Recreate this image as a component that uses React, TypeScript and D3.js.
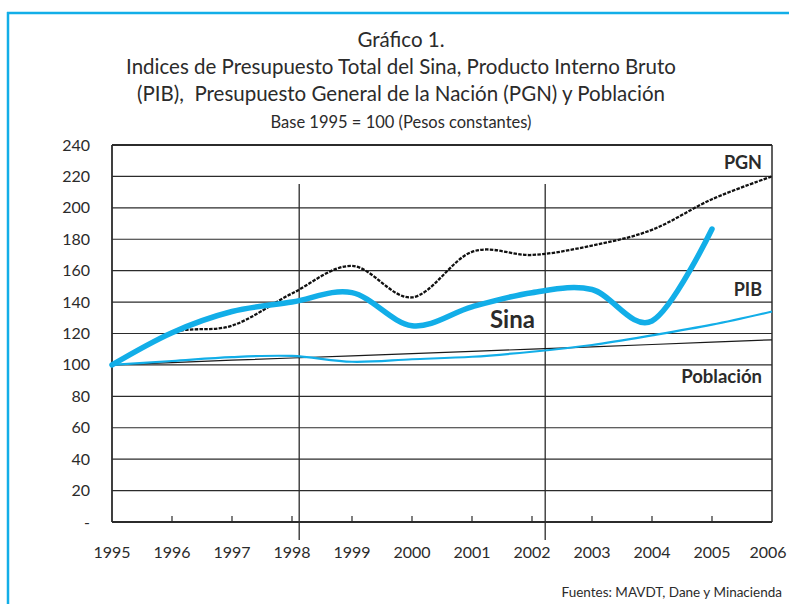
import React, { useEffect, useRef } from 'react';
import * as d3 from 'd3';

// years on the x axis
const years = [1995, 1996, 1997, 1998, 1999, 2000, 2001, 2002, 2003, 2004, 2005, 2006];
const yTicks = [0, 20, 40, 60, 80, 100, 120, 140, 160, 180, 200, 220, 240];

// index values, base 1995 = 100
const sinaYears = [1995, 1996, 1997, 1998, 1999, 2000, 2001, 2002, 2003, 2004, 2005];
const sina = [100, 120.5, 134, 140, 146, 125, 137, 146, 148, 128, 186.5];
const pgn = [100, 120.5, 125, 145.5, 163, 143, 172, 170, 176, 186, 205.5, 220];
const pib = [100, 102.5, 105, 105.7, 102, 103.6, 105.2, 108.4, 112.7, 118.8, 125.6, 134];
const poblacion = [100, 101.5, 103, 104.4, 105.8, 107.2, 108.6, 110.1, 111.5, 113, 114.5, 116];

// period markers (vertical lines)
const markers = [1998.12, 2002.22];

const FONT = 'Lato, "Open Sans", sans-serif';
const BLUE = '#12aee8';
const INK = '#2b2b2b';

export default function App() {
  const ref = useRef<SVGSVGElement | null>(null);

  useEffect(() => {
    const svg = d3.select(ref.current);
    svg.selectAll('*').remove();

    const x = d3.scaleLinear().domain([1995, 2006]).range([112, 772]);
    const y = d3.scaleLinear().domain([0, 240]).range([522, 145]);

    // outer blue frame (left + top)
    svg.append('line').attr('x1', 8).attr('x2', 8).attr('y1', 12).attr('y2', 604)
      .attr('stroke', BLUE).attr('stroke-width', 2.5);
    svg.append('line').attr('x1', 7).attr('x2', 789).attr('y1', 13).attr('y2', 13)
      .attr('stroke', BLUE).attr('stroke-width', 2.5);

    // titles
    const titles = [
      { t: 'Gráfico 1.', y: 47, s: 20.5 },
      { t: 'Indices de Presupuesto Total del Sina, Producto Interno Bruto', y: 74, s: 20.5 },
      { t: '(PIB),  Presupuesto General de la Nación (PGN) y Población', y: 101, s: 20.5 },
      { t: 'Base 1995 = 100 (Pesos constantes)', y: 128, s: 16.5 }
    ];
    svg.selectAll('.title')
      .data(titles)
      .enter()
      .append('text')
      .attr('class', 'title')
      .attr('x', 401)
      .attr('y', d => d.y)
      .attr('text-anchor', 'middle')
      .attr('font-family', FONT)
      .attr('font-size', d => d.s)
      .attr('fill', INK)
      .style('white-space', 'pre')
      .text(d => d.t);

    // horizontal gridlines
    svg.append('g')
      .selectAll('line')
      .data(yTicks)
      .enter()
      .append('line')
      .attr('x1', x(1995))
      .attr('x2', x(2006))
      .attr('y1', d => y(d))
      .attr('y2', d => y(d))
      .attr('stroke', INK)
      .attr('stroke-width', d => (d === 240 || d === 0 ? 1.8 : 1.2));

    // y axis labels
    svg.append('g')
      .selectAll('text')
      .data(yTicks)
      .enter()
      .append('text')
      .attr('x', 90)
      .attr('y', d => y(d) + 5.5)
      .attr('text-anchor', 'end')
      .attr('font-family', FONT)
      .attr('font-size', 16)
      .attr('fill', INK)
      .text(d => (d === 0 ? '-' : String(d)));

    // plot frame sides
    svg.append('line').attr('x1', x(1995)).attr('x2', x(1995)).attr('y1', y(240)).attr('y2', y(0))
      .attr('stroke', INK).attr('stroke-width', 1.8);
    svg.append('line').attr('x1', x(2006)).attr('x2', x(2006)).attr('y1', y(240)).attr('y2', y(0))
      .attr('stroke', INK).attr('stroke-width', 1.5);

    // x ticks (inside)
    svg.append('g')
      .selectAll('line')
      .data(years.slice(1, -1))
      .enter()
      .append('line')
      .attr('x1', d => x(d))
      .attr('x2', d => x(d))
      .attr('y1', y(0) - 6)
      .attr('y2', y(0))
      .attr('stroke', INK)
      .attr('stroke-width', 1.2);

    // x labels (last one kept inside the page)
    svg.append('g')
      .selectAll('text')
      .data(years)
      .enter()
      .append('text')
      .attr('x', d => Math.min(x(d), 768))
      .attr('y', 558)
      .attr('text-anchor', 'middle')
      .attr('font-family', FONT)
      .attr('font-size', 16)
      .attr('fill', INK)
      .text(d => String(d));

    // period markers
    svg.append('g')
      .selectAll('line')
      .data(markers)
      .enter()
      .append('line')
      .attr('x1', d => x(d))
      .attr('x2', d => x(d))
      .attr('y1', 184)
      .attr('y2', 540)
      .attr('stroke', INK)
      .attr('stroke-width', 1.3);

    const line = d3.line<[number, number]>()
      .curve(d3.curveCardinal.tension(0)) // smooth like the source
      .x(d => x(d[0]))
      .y(d => y(d[1]));

    const straight = d3.line<[number, number]>()
      .x(d => x(d[0]))
      .y(d => y(d[1]));

    const pairs = (xs: number[], vs: number[]) => vs.map((v, i) => [xs[i], v] as [number, number]);

    // Población
    svg.append('path')
      .attr('d', straight(pairs(years, poblacion)))
      .attr('fill', 'none')
      .attr('stroke', '#1a1a1a')
      .attr('stroke-width', 1.2);

    // PIB
    svg.append('path')
      .attr('d', line(pairs(years, pib)))
      .attr('fill', 'none')
      .attr('stroke', BLUE)
      .attr('stroke-width', 2.2);

    // PGN
    svg.append('path')
      .attr('d', line(pairs(years, pgn)))
      .attr('fill', 'none')
      .attr('stroke', '#111')
      .attr('stroke-width', 2.3)
      .attr('stroke-dasharray', '3.5,1.3');

    // Sina
    svg.append('path')
      .attr('d', line(pairs(sinaYears, sina)))
      .attr('fill', 'none')
      .attr('stroke', BLUE)
      .attr('stroke-width', 5.5)
      .attr('stroke-linecap', 'round');

    // series labels
    const labels = [
      { t: 'PGN', x: 762, y: 169, s: 18, a: 'end' },
      { t: 'PIB', x: 762, y: 296, s: 18, a: 'end' },
      { t: 'Población', x: 762, y: 383, s: 18.5, a: 'end' },
      { t: 'Sina', x: 490, y: 328, s: 24, a: 'start' }
    ];
    svg.append('g')
      .selectAll('text')
      .data(labels)
      .enter()
      .append('text')
      .attr('x', d => d.x)
      .attr('y', d => d.y)
      .attr('text-anchor', d => d.a)
      .attr('font-family', FONT)
      .attr('font-weight', 'bold')
      .attr('font-size', d => d.s)
      .attr('fill', INK)
      .text(d => d.t);

    // source note
    svg.append('text')
      .attr('x', 782)
      .attr('y', 597)
      .attr('text-anchor', 'end')
      .attr('font-family', FONT)
      .attr('font-size', 13.5)
      .attr('fill', INK)
      .text('Fuentes: MAVDT, Dane y Minacienda');
  }, []);

  return (
    <svg
      ref={ref}
      width={789}
      height={604}
      style={{ position: 'absolute', left: 0, top: 0, background: '#fff' }}
    />
  );
}
